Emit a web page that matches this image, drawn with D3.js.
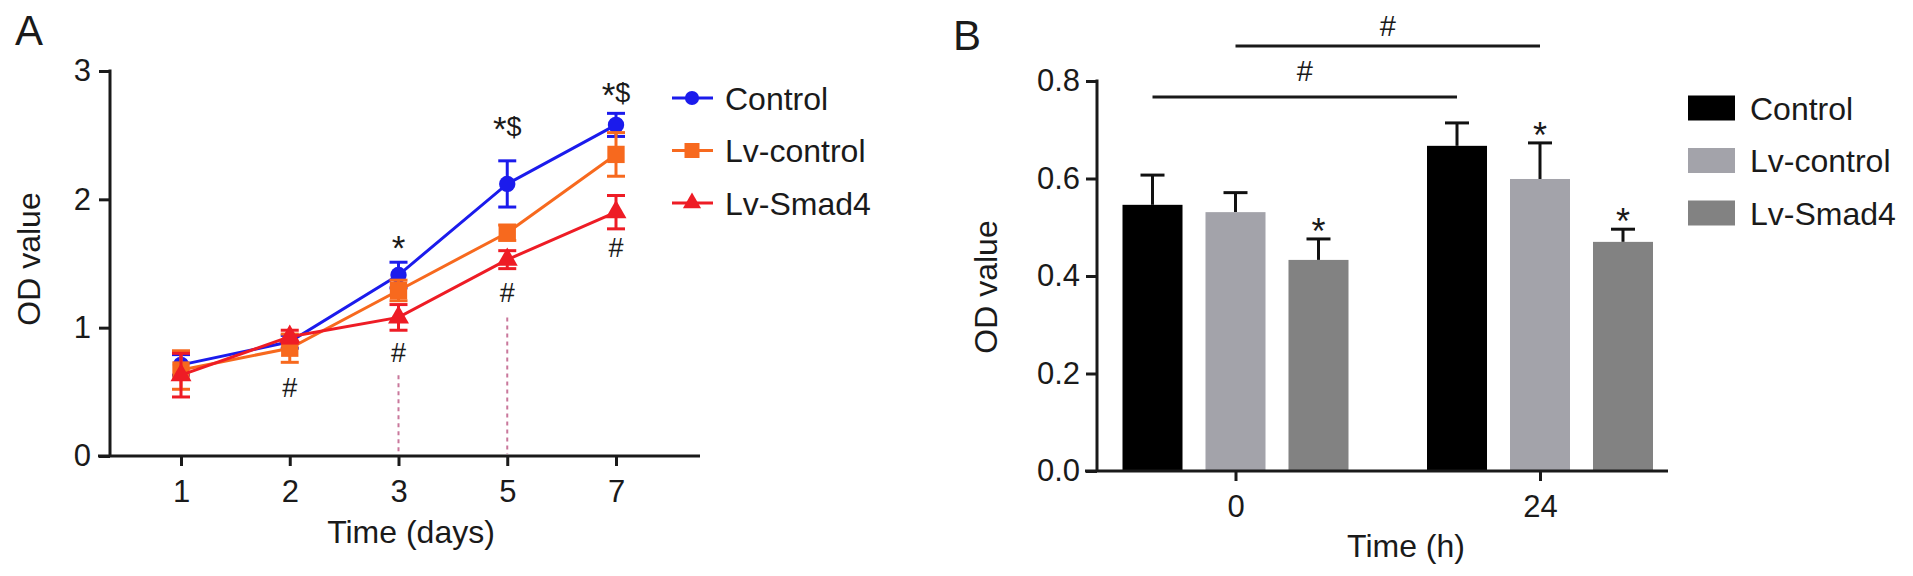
<!DOCTYPE html>
<html>
<head>
<meta charset="utf-8">
<script src="https://cdnjs.cloudflare.com/ajax/libs/d3/7.8.5/d3.min.js"></script>
<style>
  body { margin: 0; background: #fff; }
  text { font-family: "Liberation Sans", Arial, sans-serif; fill: #1a1a1a; }
</style>
</head>
<body>
<div id="chart"></div>
<script>
// ---- panel A : growth curve ----
var days = ["1", "2", "3", "5", "7"];
var seriesNames = ["Control", "Lv-control", "Lv-Smad4"];
var controlMean = [0.71, 0.89, 1.41, 2.12, 2.58];
var controlErr = [0.08, 0.05, 0.10, 0.18, 0.09];
var lvControlMean = [0.67, 0.84, 1.29, 1.74, 2.35];
var lvControlErr = [0.15, 0.11, 0.08, 0.06, 0.17];
var lvSmad4Mean = [0.63, 0.93, 1.08, 1.53, 1.90];
var lvSmad4Err = [0.17, 0.05, 0.10, 0.07, 0.13];
var lineColors = ["#1b1bec", "#f7691e", "#ee1c25"];
var yTicksA = [0, 1, 2, 3];
// significance marks (value = text baseline in OD units)
var marksA = [
  { day: "2", star: "", rest: "#", at: 0.46 },
  { day: "3", star: "*", rest: "", at: 1.57 },
  { day: "3", star: "", rest: "#", at: 0.73 },
  { day: "5", star: "*", rest: "$", at: 2.49 },
  { day: "5", star: "", rest: "#", at: 1.20 },
  { day: "7", star: "*", rest: "$", at: 2.76 },
  { day: "7", star: "", rest: "#", at: 1.55 }
];
var dropLines = [{ day: "3", top: 0.63 }, { day: "5", top: 1.08 }];

// ---- panel B : bar chart ----
var hours = ["0", "24"];
var controlBar = [0.546, 0.667];
var controlBarErr = [0.061, 0.047];
var lvControlBar = [0.531, 0.599];
var lvControlBarErr = [0.040, 0.074];
var lvSmad4Bar = [0.433, 0.470];
var lvSmad4BarErr = [0.043, 0.026];
var barColors = ["#000000", "#a3a3aa", "#828282"];
var yTicksB = [0, 0.2, 0.4, 0.6, 0.8];
var starsB = [{ hour: "0", s: 2 }, { hour: "24", s: 1 }, { hour: "24", s: 2 }];
var bracketsB = [
  { s: 0, y: 0.767, labelAt: 0.80 },
  { s: 1, y: 0.872, labelAt: 0.892 }
];

var svg = d3.select("#chart").append("svg")
  .attr("width", 1913).attr("height", 576)
  .style("background", "#fff");

// ================= Panel A =================
var meansA = [controlMean, lvControlMean, lvSmad4Mean];
var errsA = [controlErr, lvControlErr, lvSmad4Err];
var xA = d3.scalePoint().domain(days).range([181, 616]);
var yA = d3.scaleLinear().domain([0, 3]).range([456, 71]);

svg.append("text").attr("x", 15).attr("y", 45)
  .style("font-size", "42px").text("A");

var gA = svg.append("g");

// axes
var yAxA = gA.append("g").attr("transform", "translate(110,0)")
  .call(d3.axisLeft(yA).tickValues(yTicksA).tickFormat(d3.format("d")).tickSize(11).tickPadding(8));
var xAxA = gA.append("g").attr("transform", "translate(0,456)")
  .call(d3.axisBottom(xA).tickSize(10).tickPadding(14));
[yAxA, xAxA].forEach(function (ax) {
  ax.select(".domain").remove();
  ax.selectAll(".tick line").attr("stroke", "#1a1a1a").attr("stroke-width", 3);
  ax.selectAll(".tick text").style("font-size", "31px").attr("fill", "#1a1a1a");
});
gA.append("line").attr("x1", 110).attr("x2", 110).attr("y1", yA(3) - 1.5).attr("y2", yA(0))
  .attr("stroke", "#1a1a1a").attr("stroke-width", 3);
gA.append("line").attr("x1", 98).attr("x2", 700).attr("y1", yA(0)).attr("y2", yA(0))
  .attr("stroke", "#1a1a1a").attr("stroke-width", 3);

// dashed drop lines
gA.selectAll(".drop").data(dropLines).enter().append("line")
  .attr("x1", function (d) { return xA(d.day); })
  .attr("x2", function (d) { return xA(d.day); })
  .attr("y1", function (d) { return yA(d.top); })
  .attr("y2", yA(0) - 2)
  .attr("stroke", "#c9789c").attr("stroke-width", 2).attr("stroke-dasharray", "4,4");

// series
var symbols = [d3.symbolCircle, d3.symbolSquare, d3.symbolTriangle];
var symSizes = [210, 300, 190];
seriesNames.forEach(function (name, s) {
  var pts = days.map(function (d, i) { return { day: d, m: meansA[s][i], e: errsA[s][i] }; });
  var g = gA.append("g");
  var col = lineColors[s];
  // error bars
  pts.forEach(function (p) {
    var x = xA(p.day);
    g.append("line").attr("x1", x).attr("x2", x).attr("y1", yA(p.m + p.e)).attr("y2", yA(p.m - p.e))
      .attr("stroke", col).attr("stroke-width", 3);
    [p.m + p.e, p.m - p.e].forEach(function (v) {
      g.append("line").attr("x1", x - 9).attr("x2", x + 9).attr("y1", yA(v)).attr("y2", yA(v))
        .attr("stroke", col).attr("stroke-width", 3);
    });
  });
  g.append("path").datum(pts)
    .attr("d", d3.line().x(function (p) { return xA(p.day); }).y(function (p) { return yA(p.m); }))
    .attr("fill", "none").attr("stroke", col).attr("stroke-width", 3);
  g.selectAll(".pt").data(pts).enter().append("path")
    .attr("d", d3.symbol().type(symbols[s]).size(symSizes[s]))
    .attr("transform", function (p) { return "translate(" + xA(p.day) + "," + yA(p.m) + ")"; })
    .attr("fill", col);
});

// significance marks
var mk = gA.selectAll(".mark").data(marksA).enter().append("text")
  .attr("x", function (d) { return xA(d.day); })
  .attr("y", function (d) { return yA(d.at); })
  .attr("text-anchor", "middle")
  .style("font-size", "27px");
mk.append("tspan").style("font-size", "35px").attr("dy", function (d) { return d.star ? 5 : 0; })
  .text(function (d) { return d.star; });
mk.append("tspan").attr("dy", function (d) { return d.star ? -5 : 0; })
  .text(function (d) { return d.rest; });

// axis titles
svg.append("text").attr("transform", "translate(40,259) rotate(-90)")
  .attr("text-anchor", "middle").style("font-size", "32px").text("OD value");
svg.append("text").attr("x", 411).attr("y", 543)
  .attr("text-anchor", "middle").style("font-size", "32px").text("Time (days)");

// legend A
seriesNames.forEach(function (name, s) {
  var ly = 98 + s * 52.5;
  svg.append("line").attr("x1", 672).attr("x2", 713).attr("y1", ly).attr("y2", ly)
    .attr("stroke", lineColors[s]).attr("stroke-width", 3);
  svg.append("path").attr("d", d3.symbol().type(symbols[s]).size(symSizes[s] * 0.75))
    .attr("transform", "translate(692," + ly + ")").attr("fill", lineColors[s]);
  svg.append("text").attr("x", 725).attr("y", ly + 11.5)
    .style("font-size", "32px").text(name);
});

// ================= Panel B =================
var meansB = [controlBar, lvControlBar, lvSmad4Bar];
var errsB = [controlBarErr, lvControlBarErr, lvSmad4BarErr];
var xB = d3.scalePoint().domain(hours).range([1235.5, 1540]);
var xInner = d3.scaleBand().domain([0, 1, 2]).range([-113, 113]).paddingInner(0.277).paddingOuter(0);
var yB = d3.scaleLinear().domain([0, 0.8]).range([471, 81]);

svg.append("text").attr("x", 953).attr("y", 50)
  .style("font-size", "42px").text("B");

var gB = svg.append("g");

// bars
hours.forEach(function (h, i) {
  seriesNames.forEach(function (name, s) {
    var x0 = xB(h) + xInner(s);
    var m = meansB[s][i], e = errsB[s][i];
    var cx = x0 + xInner.bandwidth() / 2;
    gB.append("line").attr("x1", cx).attr("x2", cx).attr("y1", yB(m)).attr("y2", yB(m + e))
      .attr("stroke", "#111").attr("stroke-width", 3);
    gB.append("line").attr("x1", cx - 12).attr("x2", cx + 12).attr("y1", yB(m + e)).attr("y2", yB(m + e))
      .attr("stroke", "#111").attr("stroke-width", 3);
    gB.append("rect").attr("x", x0).attr("y", yB(m))
      .attr("width", xInner.bandwidth()).attr("height", yB(0) - yB(m))
      .attr("fill", barColors[s]);
  });
});

// stars over bars
gB.selectAll(".star").data(starsB).enter().append("text")
  .attr("x", function (d) { return xB(d.hour) + xInner(d.s) + xInner.bandwidth() / 2; })
  .attr("y", function (d) {
    var i = hours.indexOf(d.hour);
    return yB(meansB[d.s][i] + errsB[d.s][i]) + 5;
  })
  .attr("text-anchor", "middle").style("font-size", "36px").text("*");

// brackets
bracketsB.forEach(function (b) {
  var xa = xB(hours[0]) + xInner(b.s) + xInner.bandwidth() / 2;
  var xb = xB(hours[1]) + xInner(b.s) + xInner.bandwidth() / 2;
  gB.append("line").attr("x1", xa).attr("x2", xb).attr("y1", yB(b.y)).attr("y2", yB(b.y))
    .attr("stroke", "#1a1a1a").attr("stroke-width", 3);
  gB.append("text").attr("x", (xa + xb) / 2).attr("y", yB(b.labelAt))
    .attr("text-anchor", "middle").style("font-size", "29px").text("#");
});

// axes B
var yAxB = gB.append("g").attr("transform", "translate(1097,0)")
  .call(d3.axisLeft(yB).tickValues(yTicksB).tickFormat(d3.format(".1f")).tickSize(11).tickPadding(6));
var xAxB = gB.append("g").attr("transform", "translate(0,471)")
  .call(d3.axisBottom(xB).tickSize(10).tickPadding(14));
[yAxB, xAxB].forEach(function (ax) {
  ax.select(".domain").remove();
  ax.selectAll(".tick line").attr("stroke", "#1a1a1a").attr("stroke-width", 3);
  ax.selectAll(".tick text").style("font-size", "31px").attr("fill", "#1a1a1a");
});
gB.append("line").attr("x1", 1097).attr("x2", 1097).attr("y1", yB(0.8) - 1.5).attr("y2", yB(0))
  .attr("stroke", "#1a1a1a").attr("stroke-width", 3);
gB.append("line").attr("x1", 1085).attr("x2", 1668).attr("y1", yB(0)).attr("y2", yB(0))
  .attr("stroke", "#1a1a1a").attr("stroke-width", 3);

svg.append("text").attr("transform", "translate(997,287) rotate(-90)")
  .attr("text-anchor", "middle").style("font-size", "32px").text("OD value");
svg.append("text").attr("x", 1406).attr("y", 557)
  .attr("text-anchor", "middle").style("font-size", "32px").text("Time (h)");

// legend B
seriesNames.forEach(function (name, s) {
  var ly = 108 + s * 52.5;
  svg.append("rect").attr("x", 1688).attr("y", ly - 12.5).attr("width", 47).attr("height", 25)
    .attr("fill", barColors[s]);
  svg.append("text").attr("x", 1750).attr("y", ly + 11.5)
    .style("font-size", "32px").text(name);
});
</script>
</body>
</html>
